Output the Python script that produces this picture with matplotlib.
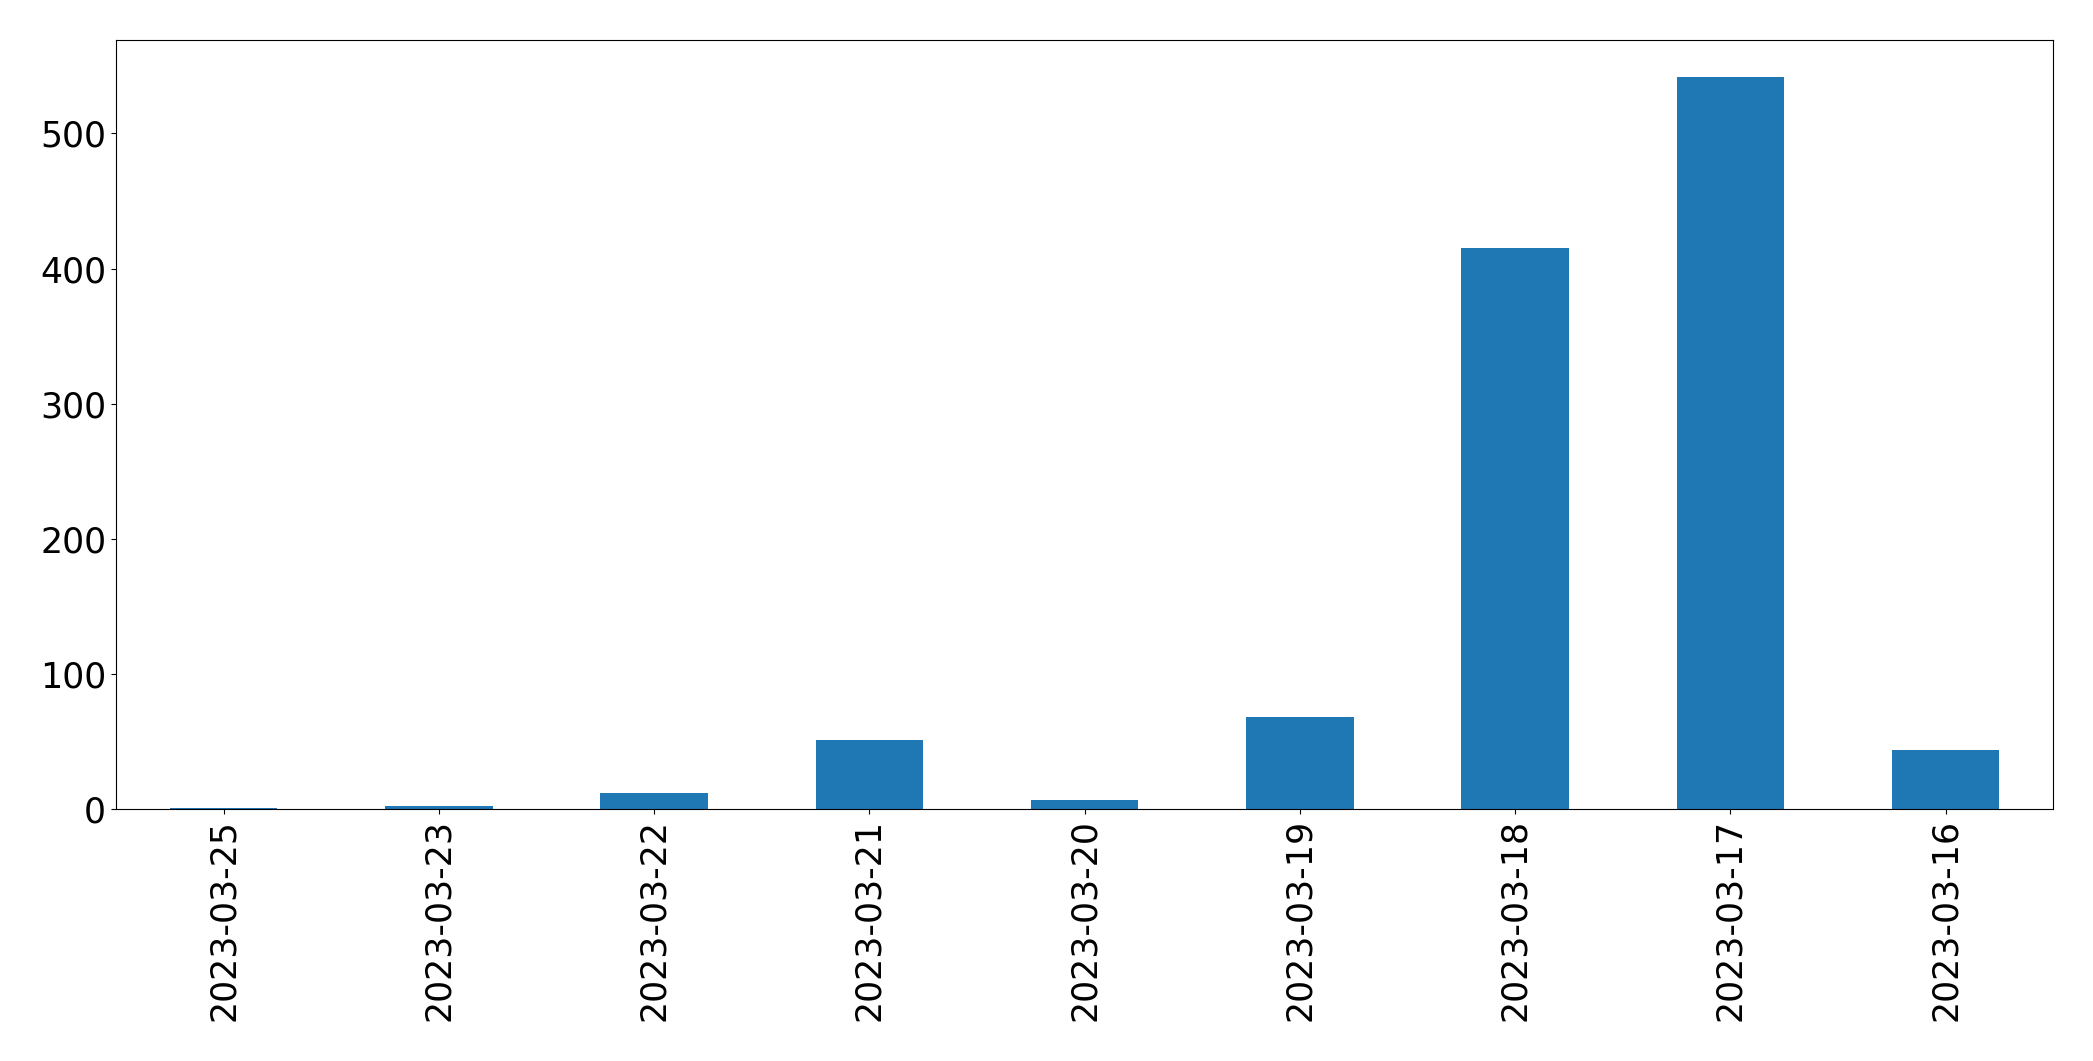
import matplotlib
matplotlib.use("Agg")
import matplotlib.pyplot as plt

dates = [
    "2023-03-25", "2023-03-23", "2023-03-22", "2023-03-21", "2023-03-20",
    "2023-03-19", "2023-03-18", "2023-03-17", "2023-03-16",
]
counts = [1, 2, 12, 51, 7, 68, 415, 542, 44]


def plot_counts():
    fig, ax = plt.subplots(figsize=(20.93, 10.61), dpi=100)
    x = range(len(dates))
    ax.bar(x, counts, width=0.5, color="#1f77b4")
    ax.set_xlim(-0.5, len(dates) - 0.5)
    ax.set_xticks(list(x))
    ax.set_xticklabels(dates, rotation=90)
    ax.tick_params(axis="both", labelsize=25)
    fig.subplots_adjust(left=0.0554, right=0.981, top=0.9623, bottom=0.2375)
    fig.savefig("out.png", dpi=100)


if __name__ == "__main__":
    plot_counts()
